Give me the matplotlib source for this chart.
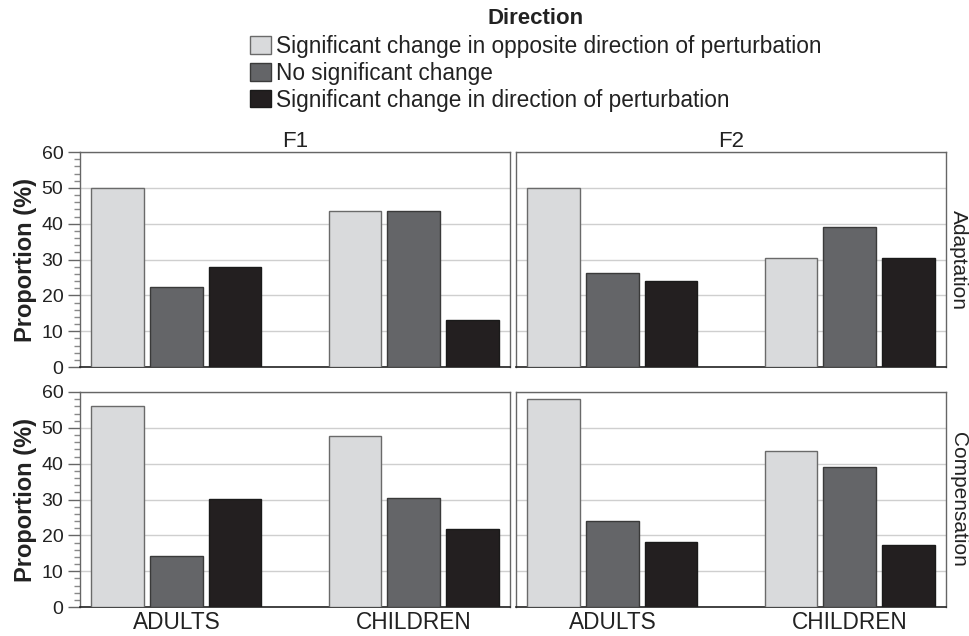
import matplotlib
matplotlib.use("Agg")
import matplotlib.pyplot as plt
import matplotlib.transforms as mtransforms
import numpy as np
from matplotlib.patches import Patch
from matplotlib.ticker import MultipleLocator

plt.rcParams['font.family'] = ['Liberation Sans', 'DejaVu Sans']

groups = ["ADULTS", "CHILDREN"]
formants = ["F1", "F2"]
conditions = ["Adaptation", "Compensation"]
directions = ["Significant change in opposite direction of perturbation",
              "No significant change",
              "Significant change in direction of perturbation"]
colors = ["#d9dadc", "#646568", "#231f20"]
edgecolors = ["#6a6a6a", "#3a3a3a", "#1a1a1a"]

adapt_f1_opp = [50.0, 43.5]
adapt_f1_none = [22.2, 43.5]
adapt_f1_dir = [27.8, 13.0]
adapt_f2_opp = [50.0, 30.4]
adapt_f2_none = [26.1, 39.1]
adapt_f2_dir = [24.1, 30.4]
comp_f1_opp = [56.2, 47.8]
comp_f1_none = [14.2, 30.4]
comp_f1_dir = [30.2, 21.7]
comp_f2_opp = [58.1, 43.5]
comp_f2_none = [24.1, 39.1]
comp_f2_dir = [18.2, 17.4]

data = {
    ("Adaptation", "F1"): [adapt_f1_opp, adapt_f1_none, adapt_f1_dir],
    ("Adaptation", "F2"): [adapt_f2_opp, adapt_f2_none, adapt_f2_dir],
    ("Compensation", "F1"): [comp_f1_opp, comp_f1_none, comp_f1_dir],
    ("Compensation", "F2"): [comp_f2_opp, comp_f2_none, comp_f2_dir],
}

fig = plt.figure(figsize=(9.69, 6.36), dpi=100)

lefts = [80 / 969, 516 / 969]
bottoms = [1 - 367 / 636, 1 - 607 / 636]
w = 430 / 969
h = 215 / 636

x = np.arange(len(groups))
bw = 0.222
pitch = 0.247
TXT = '#222222'

for r, cond in enumerate(conditions):
    for c, fm in enumerate(formants):
        ax = fig.add_axes([lefts[c], bottoms[r], w, h])
        series = data[(cond, fm)]
        for k, vals in enumerate(series):
            ax.bar(x + (k - 1) * pitch, vals, width=bw, color=colors[k],
                   edgecolor=edgecolors[k], linewidth=1.0, zorder=3)
        ax.set_xlim(-0.406, 1.406)
        ax.set_ylim(0, 60)
        ax.yaxis.set_major_locator(MultipleLocator(10))
        ax.yaxis.set_minor_locator(MultipleLocator(2))
        ax.grid(axis='y', which='major', color='#cfcfcf', linewidth=1.0, zorder=0)
        for s in ['top', 'right', 'left']:
            ax.spines[s].set_color('#666666')
            ax.spines[s].set_linewidth(1.0)
        ax.spines['bottom'].set_color('#222222')
        ax.spines['bottom'].set_linewidth(1.2)
        if c == 0:
            ax.tick_params(axis='y', which='major', length=9, width=1.0,
                           color='#666666', labelsize=14, labelcolor=TXT, pad=3)
            ax.tick_params(axis='y', which='minor', length=4, width=1.0, color='#888888')
            ax.set_ylabel("Proportion (%)", fontsize=17, fontweight='bold',
                          color=TXT, labelpad=3)
        else:
            ax.tick_params(axis='y', which='both', left=False, labelleft=False)
        if r == 1:
            ax.set_xticks(x)
            ax.set_xticklabels(groups, fontsize=16.3, color=TXT)
            ax.tick_params(axis='x', length=0, pad=3)
        else:
            ax.set_xticks([])
        if r == 0:
            ax.set_title(fm, fontsize=16, color=TXT, pad=3)
        if c == 1:
            trans = mtransforms.blended_transform_factory(fig.transFigure, ax.transAxes)
            ax.text(958.5 / 969, 0.5, cond, transform=trans,
                    rotation=-90, va='center', ha='center', fontsize=15, color=TXT)

fig.text(536 / 969, 1 - 18 / 636, "Direction", ha='center', va='center',
         fontsize=16, fontweight='bold', color=TXT)

handles = [Patch(facecolor=colors[k], edgecolor=edgecolors[k], linewidth=1.0)
           for k in range(3)]
leg = fig.legend(handles, directions, loc='upper left',
                 bbox_to_anchor=(250 / 969, 1 - 35 / 636), frameon=False,
                 fontsize=16.3, handlelength=0.93, handleheight=0.8,
                 handletextpad=0.22, labelspacing=0.17, borderpad=0.0,
                 borderaxespad=0.0)
for t in leg.get_texts():
    t.set_color(TXT)

fig.savefig("out.png", dpi=100)
